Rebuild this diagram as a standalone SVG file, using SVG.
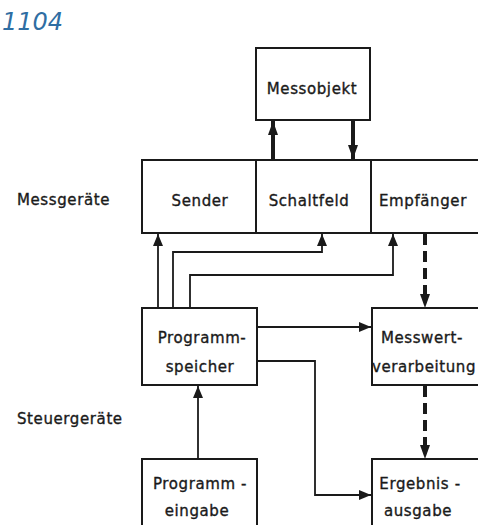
<svg xmlns="http://www.w3.org/2000/svg" width="478" height="525" viewBox="0 0 478 525">
<style>
.box{fill:#fff;stroke:#1a1a1a;stroke-width:2}
.t{font-family:"DejaVu Sans","Liberation Sans",sans-serif;font-size:15px;fill:#1a1a1a;stroke:#1a1a1a;stroke-width:0.35;text-anchor:middle;letter-spacing:0.6px}
.l{font-family:"DejaVu Sans","Liberation Sans",sans-serif;font-size:15px;fill:#1a1a1a;stroke:#1a1a1a;stroke-width:0.35;letter-spacing:0.6px}
.c{fill:none;stroke:#1a1a1a;stroke-width:1.8}
.thick{fill:none;stroke:#1a1a1a;stroke-width:4}
.dash{fill:none;stroke:#1a1a1a;stroke-width:4;stroke-dasharray:11,6}
</style>
<defs>
<marker id="a" viewBox="0 0 12 10" refX="12" refY="5" markerWidth="12" markerHeight="10" markerUnits="userSpaceOnUse" orient="auto"><path d="M0,0 L12,5 L0,10 Z" fill="#1a1a1a"/></marker>
<marker id="b" viewBox="0 0 14 10" refX="14" refY="5" markerWidth="14" markerHeight="10" markerUnits="userSpaceOnUse" orient="auto"><path d="M0,0 L14,5 L0,10 Z" fill="#1a1a1a"/></marker>
</defs>
<text x="2" y="30" font-family="'DejaVu Sans',sans-serif" font-size="24" fill="#2f6ea3" font-style="italic">1104</text>
<text class="l" x="17" y="205">Messgeräte</text>
<text class="l" x="17" y="424">Steuergeräte</text>
<g id="connectors">
<path class="thick" d="M273,160 V121" marker-end="url(#b)"/>
<path class="thick" d="M353,120 V159" marker-end="url(#b)"/>
<path class="c" d="M158,308 V234" marker-end="url(#a)"/>
<path class="c" d="M173,308 V252 H322 V234" marker-end="url(#a)"/>
<path class="c" d="M190,308 V275 H393 V234" marker-end="url(#a)"/>
<path class="c" d="M257,327 H371" marker-end="url(#a)"/>
<path class="c" d="M257,361 H315 V495 H371" marker-end="url(#a)"/>
<path class="c" d="M198,459 V386" marker-end="url(#a)"/>
<path class="dash" d="M425,234 V296"/>
<path d="M420,294 L430,294 L425,308 Z" fill="#1a1a1a"/>
<path class="dash" d="M425,386 V447"/>
<path d="M420,445 L430,445 L425,459 Z" fill="#1a1a1a"/>
</g>
<g id="messobjekt"><rect class="box" x="256" y="48" width="114" height="72"/><text class="t" x="312" y="94">Messobjekt</text></g>
<g id="sender"><rect class="box" x="142" y="160" width="114" height="73"/><text class="t" x="200" y="206">Sender</text></g>
<g id="schaltfeld"><rect class="box" x="256" y="160" width="115" height="73"/><text class="t" x="309" y="206">Schaltfeld</text></g>
<g id="empfaenger"><rect class="box" x="371" y="160" width="108" height="73"/><text class="t" x="423" y="206">Empfänger</text></g>
<g id="programmspeicher"><rect class="box" x="142" y="308" width="115" height="77"/><text class="t" x="202" y="343">Programm-</text><text class="t" x="200" y="372">speicher</text></g>
<g id="messwertverarbeitung"><rect class="box" x="372" y="308" width="107" height="77"/><text class="t" x="422" y="343">Messwert-</text><text class="t" x="424" y="372">verarbeitung</text></g>
<g id="programmeingabe"><rect class="box" x="142" y="459" width="115" height="70"/><text class="t" x="200" y="489">Programm -</text><text class="t" x="197" y="516">eingabe</text></g>
<g id="ergebnisausgabe"><rect class="box" x="372" y="459" width="107" height="70"/><text class="t" x="420" y="489">Ergebnis -</text><text class="t" x="418" y="516">ausgabe</text></g>
</svg>
